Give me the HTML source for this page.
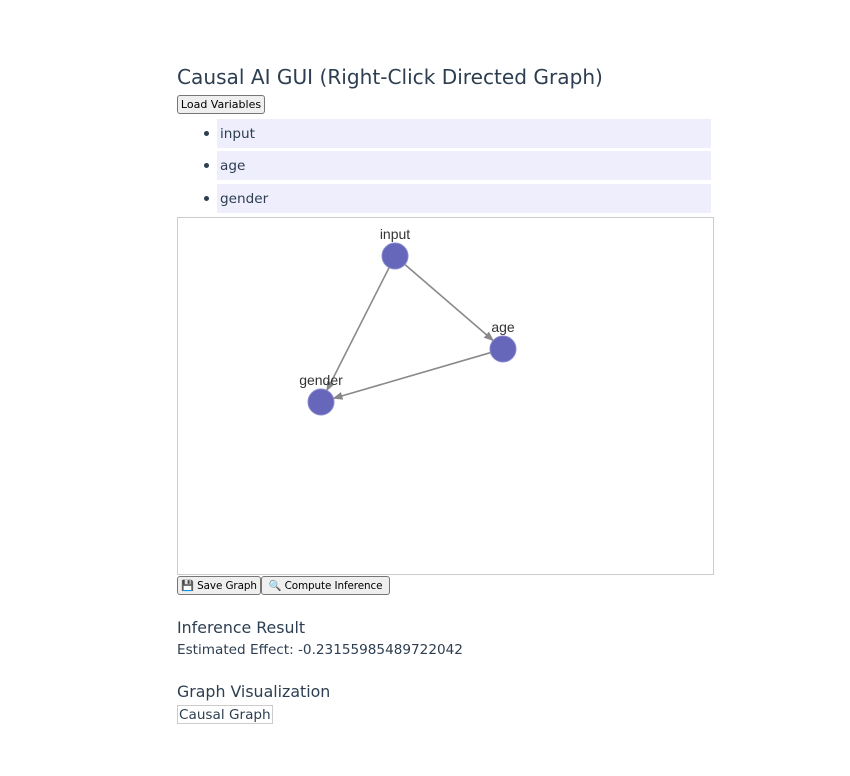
<!DOCTYPE html>
<html><head><meta charset="utf-8"><style>
body{margin:0;width:850px;height:776px;background:#fff;font-family:"DejaVu Sans",sans-serif;color:#2c3e50;position:relative;overflow:hidden}
.a{position:absolute}
h1{position:absolute;left:177px;top:65px;margin:0;font-size:20.1px;font-weight:normal;white-space:nowrap}
button{position:absolute;font-family:"DejaVu Sans",sans-serif;font-size:10.4px;color:#000;background:#efefef;border:1px solid #767676;border-radius:3px;padding:0 2px;height:19px;white-space:nowrap;letter-spacing:-0.1px}
.li{position:absolute;left:217px;width:494px;height:29px;background:#eeeefc;font-size:13.6px;line-height:30px;padding-left:3px;box-sizing:border-box}
.dot{position:absolute;left:204px;width:5px;height:5px;border-radius:50%;background:#2c3e50}
h3{position:absolute;left:177px;margin:0;font-size:15.8px;font-weight:normal;white-space:nowrap}
</style></head><body>
<h1>Causal AI GUI (Right-Click Directed Graph)</h1>
<button style="left:177px;top:95px;width:88px;font-size:11px;letter-spacing:0">Load Variables</button>
<div class="dot" style="top:131px"></div><div class="li" style="top:119px">input</div>
<div class="dot" style="top:163px"></div><div class="li" style="top:151px">age</div>
<div class="dot" style="top:196px"></div><div class="li" style="top:184px">gender</div>
<svg class="a" style="left:177px;top:217px" width="537" height="358">
<defs><marker id="ar" markerWidth="10" markerHeight="8" refX="9" refY="4" orient="auto" markerUnits="userSpaceOnUse"><path d="M0,0L10,4L0,8z" fill="#888"/></marker></defs>
<rect x="0.5" y="0.5" width="536" height="357" fill="#fff" stroke="#ccc"/>
<g id="g"></g>
</svg>
<button style="left:177px;top:576px;width:84px">💾 Save Graph</button>
<button style="left:261px;top:576px;width:129px">🔍 Compute Inference</button>
<h3 style="top:618px">Inference Result</h3>
<div class="a" style="left:177px;top:642px;font-size:13.6px">Estimated Effect: -0.23155985489722042</div>
<h3 style="top:682px">Graph Visualization</h3>
<div class="a" style="left:177px;top:705px;font-size:13.6px;border:1px solid #ccc;padding:0 1px;height:17px;line-height:18px">Causal Graph</div>
<script>
const nodeNames=["input","age","gender"];
const nodeX=[218,326,144];
const nodeY=[39,132,185];
const edgeFrom=[0,0,1];
const edgeTo=[1,2,2];
const ns="http://www.w3.org/2000/svg",g=document.getElementById('g');
const R=13;
for(let i=0;i<edgeFrom.length;i++){
 const a=edgeFrom[i],b=edgeTo[i];
 const dx=nodeX[b]-nodeX[a],dy=nodeY[b]-nodeY[a],d=Math.hypot(dx,dy);
 const l=document.createElementNS(ns,'line');
 
 
 l.setAttribute('x1',nodeX[a]+dx/d*R*0.4);l.setAttribute('y1',nodeY[a]+dy/d*R*0.4);
 l.setAttribute('x2',nodeX[b]-dx/d*R);l.setAttribute('y2',nodeY[b]-dy/d*R);
 l.setAttribute('stroke','#8a8a8a');l.setAttribute('stroke-width','1.6');l.setAttribute('marker-end','url(#ar)');
 g.appendChild(l);
}
for(let i=0;i<nodeNames.length;i++){
 const c=document.createElementNS(ns,'circle');
 
 
 c.setAttribute('cx',nodeX[i]);c.setAttribute('cy',nodeY[i]);c.setAttribute('r',R);
 c.setAttribute('fill','#6666bb');c.setAttribute('stroke','#8888cc');c.setAttribute('stroke-width','1');
 g.appendChild(c);
 const t=document.createElementNS(ns,'text');
 
 
 t.setAttribute('x',nodeX[i]);t.setAttribute('y',nodeY[i]-17);t.setAttribute('text-anchor','middle');
 t.setAttribute('font-family','Liberation Sans, sans-serif');t.setAttribute('font-size','14');t.setAttribute('fill','#333');
 t.textContent=nodeNames[i];g.appendChild(t);
}
</script>
</body></html>
